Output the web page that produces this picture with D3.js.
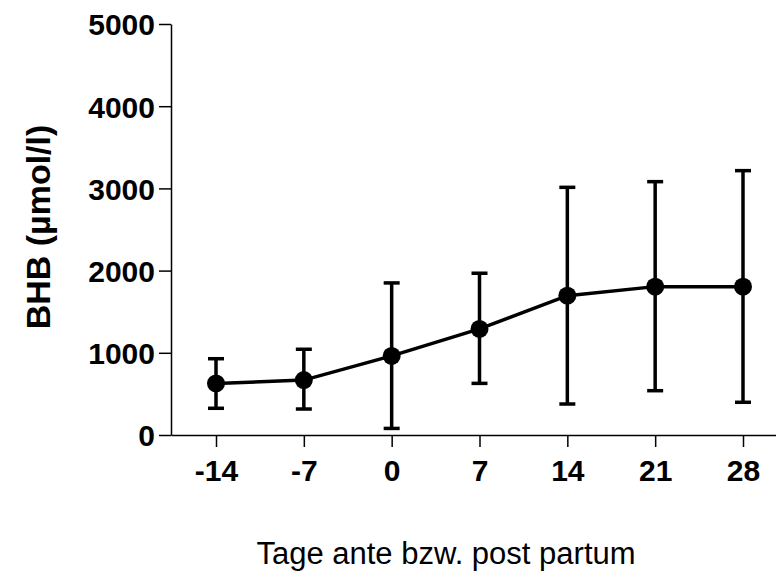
<!DOCTYPE html>
<html>
<head>
<meta charset="utf-8">
<script src="https://cdn.jsdelivr.net/npm/d3@7"></script>
<style>
  body { margin: 0; background: #fff; }
  svg text { font-family: "Liberation Sans", Arial, sans-serif; fill: #000; }
</style>
</head>
<body>
<div id="chart_container"></div>
<script>
var days = [-14, -7, 0, 7, 14, 21, 28];
var means = [628, 668, 962, 1290, 1695, 1805, 1805];
var upper = [928, 1043, 1850, 1968, 3013, 3082, 3216];
var lower = [325, 316, 80, 628, 377, 539, 398];
var yTicks = [0, 1000, 2000, 3000, 4000, 5000];

var svg = d3.select("#chart_container").append("svg")
    .attr("width", 776)
    .attr("height", 571);

var x = d3.scaleLinear()
    .domain([-14, 28])
    .range([216, 743]);
var y = d3.scaleLinear()
    .domain([0, 5000])
    .range([435, 24]);

// x axis runs from the y axis to the right edge
var xAxisScale = x.copy().domain([x.invert(171), x.invert(776)]).range([171, 776]);

var xAxis = svg.append("g")
    .attr("transform", "translate(0,435)")
    .call(d3.axisBottom(xAxisScale).tickValues(days).tickSize(12).tickSizeOuter(0)
        .tickFormat(function(d) { return String(d); }));
xAxis.selectAll("text")
    .attr("dy", 0)
    .attr("y", 46)
    .style("font-size", "30px")
    .style("font-weight", "bold");

var yAxis = svg.append("g")
    .attr("transform", "translate(171,0)")
    .call(d3.axisLeft(y).tickValues(yTicks).tickSize(12).tickSizeOuter(0).tickFormat(d3.format("d")));
yAxis.selectAll("text")
    .attr("x", -16)
    .attr("dy", "0.36em")
    .style("font-size", "30px")
    .style("font-weight", "bold");

svg.selectAll(".domain, .tick line")
    .attr("stroke", "#000")
    .attr("stroke-width", 1.5);

// error bars
var bars = svg.append("g").attr("id", "errorbars");
days.forEach(function(d, i) {
    bars.append("line")
        .attr("x1", x(d)).attr("x2", x(d))
        .attr("y1", y(upper[i])).attr("y2", y(lower[i]))
        .attr("stroke", "#000").attr("stroke-width", 3.5);
    [upper[i], lower[i]].forEach(function(v) {
        bars.append("line")
            .attr("x1", x(d) - 8).attr("x2", x(d) + 8)
            .attr("y1", y(v)).attr("y2", y(v))
            .attr("stroke", "#000").attr("stroke-width", 3.5);
    });
});

var line = d3.line()
    .x(function(d, i) { return x(days[i]); })
    .y(function(d) { return y(d); });

svg.append("path")
    .datum(means)
    .attr("d", line)
    .attr("fill", "none")
    .attr("stroke", "#000")
    .attr("stroke-width", 3.5);

svg.selectAll("circle")
    .data(means)
    .enter().append("circle")
    .attr("cx", function(d, i) { return x(days[i]); })
    .attr("cy", function(d) { return y(d); })
    .attr("r", 9)
    .attr("fill", "#000");

svg.append("text")
    .attr("transform", "translate(50,227) rotate(-90)")
    .attr("text-anchor", "middle")
    .style("font-size", "34px")
    .style("font-weight", "bold")
    .text("BHB (µmol/l)");

svg.append("text")
    .attr("x", 446)
    .attr("y", 564)
    .attr("text-anchor", "middle")
    .style("font-size", "31px")
    .text("Tage ante bzw. post partum");
</script>
</body>
</html>
